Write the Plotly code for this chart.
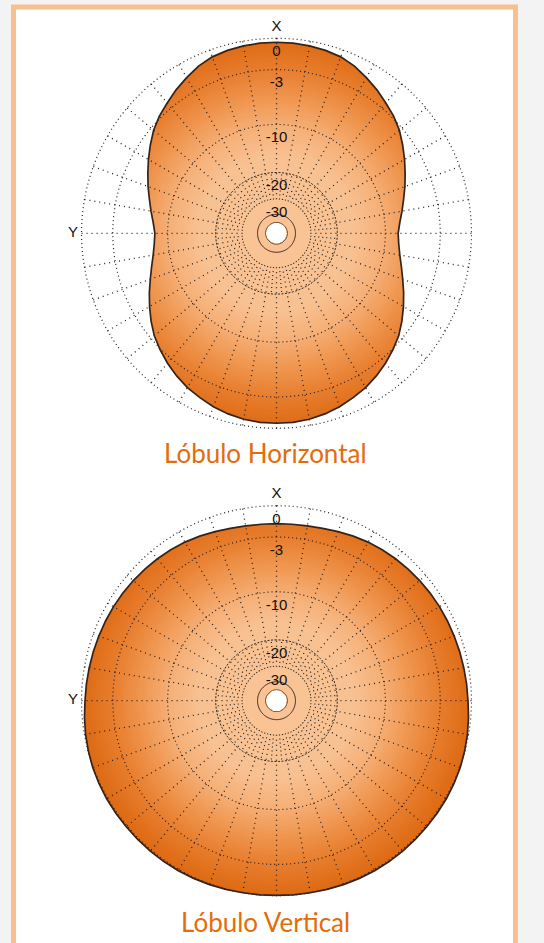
import numpy as np
import plotly.graph_objects as go
from plotly.colors import sample_colorscale

# ---------------- data ----------------
ANGLES = list(range(0, 360, 5))  # degrees, 0 = X (top), 90 = Y (left)

# Horizontal lobe, relative gain in dB (0..355 deg)
H_DB = [-0.35, -0.37, -0.42, -0.5, -0.65, -0.95, -1.4, -1.85, -2.35, -2.8,
        -3.35, -4.05, -4.75, -5.45, -6.1, -6.75, -7.3, -7.8, -8.1, -7.95,
        -7.6, -7.05, -6.4, -5.65, -4.9, -4.15, -3.45, -2.9, -2.4, -1.95,
        -1.55, -1.25, -0.95, -0.72, -0.55, -0.47, -0.45,
        -0.47, -0.55, -0.72, -0.95, -1.25, -1.55, -1.95, -2.4, -2.9,
        -3.45, -4.15, -4.9, -5.65, -6.4, -7.05, -7.6, -7.95, -8.1, -7.8,
        -7.3, -6.75, -6.1, -5.45, -4.75, -4.05, -3.35, -2.8, -2.35, -1.85,
        -1.4, -0.95, -0.65, -0.5, -0.42, -0.37]

# Vertical lobe, relative gain in dB (0..355 deg)
V_DB = [-1.65, -1.65, -1.62, -1.52, -1.38, -1.22, -1.08, -0.97, -0.88, -0.8,
        -0.73, -0.67, -0.61, -0.57, -0.53, -0.48, -0.43, -0.37, -0.31, -0.2,
        -0.1, -0.02, 0.05, 0.08, 0.1, 0.1, 0.1, 0.11, 0.12, 0.12,
        0.12, 0.09, 0.06, 0.03, 0.0, -0.01, -0.02,
        -0.01, 0.0, 0.03, 0.06, 0.09, 0.12, 0.12, 0.12, 0.11,
        0.1, 0.1, 0.1, 0.08, 0.05, -0.02, -0.1, -0.2, -0.31, -0.37,
        -0.43, -0.48, -0.53, -0.57, -0.61, -0.67, -0.73, -0.8, -0.88, -0.97,
        -1.08, -1.22, -1.38, -1.52, -1.62, -1.65]

RING_DB = [0, -3, -10, -20, -30]
RING_LABELS = ["0", "-3", "-10", "-20", "-30"]
INNER_RING_DB = -40
HOLE_DB = -50
AXIS_LABELS = ["X", "Y"]
AXIS_THETA = [0, 90]
TITLES = ["Lóbulo Horizontal", "Lóbulo Vertical"]


# ARRL log-periodic scale: radius shrinks by 0.89 every 2 dB
def arrl(db):
    return 0.89 ** (-np.asarray(db, dtype=float) / 2.0)


# ---------------- styling ----------------
R_MIN = float(arrl(HOLE_DB))
R_MAX = 1.03
HOLE_FRAC = R_MIN / R_MAX
GRAD = [[0.0, "rgb(249,196,150)"], [0.4, "rgb(248,193,146)"],
        [0.55, "rgb(246,176,120)"], [0.7, "rgb(239,150,80)"],
        [0.85, "rgb(231,125,45)"], [1.0, "rgb(222,106,20)"]]
GRID_COL = "#262220"
OUTLINE_COL = "#35231a"
NUM_FONT = dict(family="Liberation Sans Narrow, Arial Narrow, Liberation Sans, Arial",
                size=15, color="#111111")
AX_FONT = dict(family="Liberation Sans, Arial", size=15, color="#111111")
TITLE_FONT = dict(family="Lato, Carlito, Open Sans, sans-serif", size=26, color="#E46C0A")

W, H = 544, 943
RPX = 195.0 * R_MAX
CENTERS = [(276.5, 233.3), (276.5, 700.7)]
TITLE_Y = [453, 922]

fig = go.Figure()
circ = list(np.arange(0, 361, 2))


def add_chart(sp, values):
    th = ANGLES + [ANGLES[0] + 360]
    rv = list(arrl(values + [values[0]]))
    # radial gradient disk (drawn large to small)
    band_r = np.linspace(1.015, R_MIN, 70)
    cols = sample_colorscale(GRAD, np.clip(band_r, 0, 1).tolist())
    for r, c in zip(band_r, cols):
        fig.add_trace(go.Scatterpolar(r=[r] * len(circ), theta=circ, mode="lines",
                                      line=dict(width=0), fill="toself", fillcolor=c,
                                      subplot=sp, hoverinfo="skip"))
    # white mask outside the lobe
    mask_r = [R_MAX * 1.05] * len(circ) + rv[::-1]
    mask_t = circ + th[::-1]
    fig.add_trace(go.Scatterpolar(r=mask_r, theta=mask_t, mode="lines", line=dict(width=0),
                                  fill="toself", fillcolor="white", subplot=sp,
                                  hoverinfo="skip"))
    # rings
    for db in [0, -3, -10]:
        fig.add_trace(go.Scatterpolar(r=[float(arrl(db))] * len(circ), theta=circ, mode="lines",
                                      line=dict(color=GRID_COL, width=1.2, dash="1px,3px"),
                                      subplot=sp, hoverinfo="skip"))
    fig.add_trace(go.Scatterpolar(r=[float(arrl(-20))] * len(circ), theta=circ, mode="lines",
                                  line=dict(color=GRID_COL, width=1, dash="2px,1.5px"),
                                  subplot=sp, hoverinfo="skip"))
    for db in [INNER_RING_DB, HOLE_DB + 0.3]:
        fig.add_trace(go.Scatterpolar(r=[float(arrl(db))] * len(circ), theta=circ, mode="lines",
                                      line=dict(color=OUTLINE_COL, width=1),
                                      subplot=sp, hoverinfo="skip"))
    # spokes
    sr, st = [], []
    for a in range(0, 360, 10):
        sr += [float(arrl(-30)), float(arrl(0)), None]
        st += [a, a, None]
    fig.add_trace(go.Scatterpolar(r=sr, theta=st, mode="lines",
                                  line=dict(color=GRID_COL, width=1.3, dash="1px,4px"),
                                  subplot=sp, hoverinfo="skip"))
    sr, st = [], []
    for a in range(5, 360, 10):
        sr += [float(arrl(-30)), float(arrl(-20)), None]
        st += [a, a, None]
    fig.add_trace(go.Scatterpolar(r=sr, theta=st, mode="lines",
                                  line=dict(color=GRID_COL, width=1.2, dash="1px,3px"),
                                  subplot=sp, hoverinfo="skip"))
    # lobe outline
    fig.add_trace(go.Scatterpolar(r=rv, theta=th, mode="lines",
                                  line=dict(color=OUTLINE_COL, width=1.7),
                                  subplot=sp, hoverinfo="skip"))
    # ring labels (invisible markers only to space the text off the ring)
    fig.add_trace(go.Scatterpolar(r=list(arrl(RING_DB)), theta=[0] * len(RING_DB),
                                  mode="markers+text", text=RING_LABELS,
                                  textposition="bottom center",
                                  marker=dict(size=9, color="rgba(0,0,0,0)"),
                                  textfont=NUM_FONT, cliponaxis=False, subplot=sp,
                                  hoverinfo="skip"))
    # axis labels
    fig.add_trace(go.Scatterpolar(r=[float(arrl(0))] * 2, theta=AXIS_THETA,
                                  mode="markers+text", text=AXIS_LABELS,
                                  textposition=["top center", "middle left"],
                                  marker=dict(size=4, color="rgba(0,0,0,0)"),
                                  textfont=AX_FONT, cliponaxis=False, subplot=sp,
                                  hoverinfo="skip"))


def polar_cfg(cx, cy):
    ybot = H - cy
    return dict(domain=dict(x=[(cx - RPX) / W, (cx + RPX) / W],
                            y=[(ybot - RPX) / H, (ybot + RPX) / H]),
                hole=HOLE_FRAC, bgcolor="white",
                radialaxis=dict(range=[R_MIN, R_MAX], showline=False, showgrid=False,
                                showticklabels=False, ticks=""),
                angularaxis=dict(rotation=90, direction="counterclockwise", showline=False,
                                 showgrid=False, showticklabels=False, ticks=""))


add_chart("polar", H_DB)
add_chart("polar2", V_DB)

annotations = []
for t, ty in zip(TITLES, TITLE_Y):
    annotations.append(dict(text=t, xref="paper", yref="paper", x=265 / W, y=1 - ty / H,
                            xanchor="center", yanchor="middle", showarrow=False,
                            font=TITLE_FONT))

fig.update_layout(
    width=W, height=H, margin=dict(l=0, r=0, t=0, b=0),
    paper_bgcolor="#f3f3f3", plot_bgcolor="white", showlegend=False,
    polar=polar_cfg(*CENTERS[0]), polar2=polar_cfg(*CENTERS[1]),
    annotations=annotations,
    shapes=[dict(type="rect", xref="paper", yref="paper", x0=13.5 / W, x1=515.5 / W,
                 y0=-0.05, y1=1 - 7 / H, fillcolor="white",
                 line=dict(color="#FABF8F", width=5), layer="below")],
)

fig.write_html("out.html", config={"displayModeBar": False},
               post_script="document.body.style.margin='0';"
                           "document.body.style.background='#f3f3f3';"
                           "document.body.style.overflow='hidden';")
